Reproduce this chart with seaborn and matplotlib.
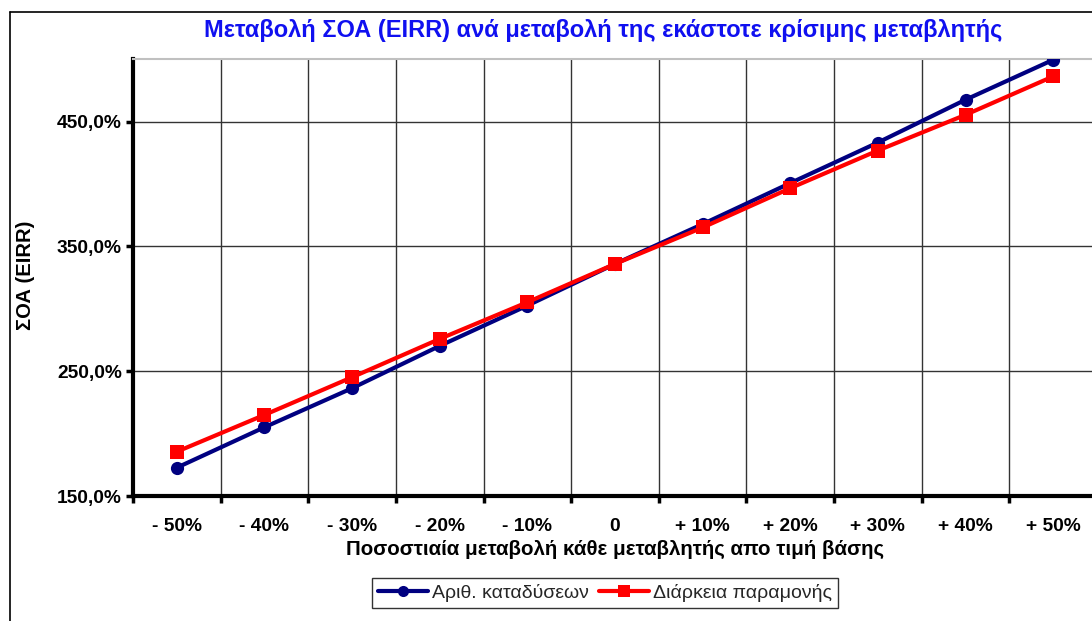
import matplotlib
matplotlib.use("Agg")
import matplotlib.pyplot as plt
from matplotlib.lines import Line2D
import seaborn as sns
import pandas as pd
import numpy as np

categories = ["- 50%", "- 40%", "- 30%", "- 20%", "- 10%", "0",
              "+ 10%", "+ 20%", "+ 30%", "+ 40%", "+ 50%"]
dives = [172.7, 205.1, 236.4, 270.3, 302.6, 336.0, 367.9, 400.8, 433.3, 467.6, 499.6]
stay = [185.5, 215.0, 245.2, 275.9, 305.3, 336.0, 365.2, 396.7, 426.9, 455.5, 486.3]
series_names = ["Αριθ. καταδύσεων", "Διάρκεια παραμονής"]
y_ticks = [150, 250, 350, 450]
y_tick_labels = ["150,0%", "250,0%", "350,0%", "450,0%"]

title = "Μεταβολή ΣΟΑ (EIRR) ανά μεταβολή της εκάστοτε κρίσιμης μεταβλητής"
xlabel = "Ποσοστιαία μεταβολή κάθε μεταβλητής απο τιμή βάσης"
ylabel = "ΣΟΑ (EIRR)"

sns.set_theme(style="white")
plt.rcParams['font.family'] = ['Liberation Sans', 'DejaVu Sans']
plt.rcParams['font.weight'] = 'bold'

pos = np.arange(len(categories))
df = pd.DataFrame({
    "pos": np.concatenate([pos, pos]),
    "value": dives + stay,
    "series": [series_names[0]] * len(pos) + [series_names[1]] * len(pos),
})

fig = plt.figure(figsize=(10.92, 6.21), dpi=100)
ax = fig.add_axes([133 / 1092, 1 - 496 / 621, (1097 - 133) / 1092, (496 - 59.3) / 621])

palette = {series_names[0]: "#000080", series_names[1]: "#FF0000"}
markers = {series_names[0]: "o", series_names[1]: "s"}
sns.lineplot(data=df, x="pos", y="value", hue="series", style="series",
             palette=palette, markers=markers, dashes=False, linewidth=3.0,
             markersize=9.5, markeredgewidth=0, ax=ax, legend=False, zorder=5)

ax.set_xlim(-0.5, len(categories) - 0.5)
ax.set_ylim(150, 500)

ax.set_xticks(np.arange(-0.5, len(categories), 1.0))
ax.set_xticklabels([])
ax.set_xticks(pos, minor=True)
ax.set_xticklabels(categories, minor=True)
ax.tick_params(axis="x", which="minor", length=0, pad=16, labelsize=13.8,
               labelcolor="black")
ax.tick_params(axis="x", which="major", direction="out", length=5, width=2.5,
               color="black", bottom=True)
ax.set_yticks(y_ticks)
ax.set_yticklabels(y_tick_labels)
ax.tick_params(axis="y", direction="out", length=5, width=2.5, color="black",
               left=True, pad=3, labelsize=13.8, labelcolor="black")

ax.grid(True, which="major", axis="both", color="#333333", linewidth=1.0)
ax.set_axisbelow(True)

for s in ["left", "bottom"]:
    ax.spines[s].set_color("black")
    ax.spines[s].set_linewidth(3)
ax.spines["top"].set_color("#c0c0c0")
ax.spines["top"].set_linewidth(1.5)
ax.spines["right"].set_visible(False)

ax.set_xlabel(xlabel, fontsize=14.8, fontweight="bold", color="black")
ax.xaxis.set_label_coords((615 - 133) / 964, (496 - 540) / 436.7)
ax.set_ylabel(ylabel, fontsize=14.5, fontweight="bold", color="black")
ax.yaxis.set_label_coords((35 - 133) / 964, (496 - 275) / 436.7)

fig.text(603 / 1092, 1 - 30 / 621, title, ha="center", va="center",
         fontsize=17, fontweight="bold", color="#1010F0",
         family=['Liberation Sans Narrow', 'Liberation Sans', 'DejaVu Sans'])

handles = [Line2D([], [], color="#000080", lw=3.0, marker="o", markersize=8, markeredgewidth=0),
           Line2D([], [], color="#FF0000", lw=3.0, marker="s", markersize=8, markeredgewidth=0)]
leg = fig.legend(handles, series_names, loc="center", bbox_to_anchor=(605 / 1092, 1 - 593 / 621),
                 ncol=2, frameon=True, fancybox=False, handlelength=2.6,
                 handletextpad=0.2, columnspacing=0.5, borderpad=0.3, numpoints=1,
                 prop={"size": 14, "weight": "normal", "family": ["Liberation Sans", "DejaVu Sans"]})
leg.get_frame().set_edgecolor("black")
leg.get_frame().set_linewidth(1.0)

fig.add_artist(Line2D([10 / 1092, 10 / 1092], [0, 1 - 12 / 621], color="black", lw=1.2,
                      transform=fig.transFigure))
fig.add_artist(Line2D([10 / 1092, 1], [1 - 12 / 621, 1 - 12 / 621], color="black", lw=1.2,
                      transform=fig.transFigure))

fig.savefig("out.png", dpi=100)
